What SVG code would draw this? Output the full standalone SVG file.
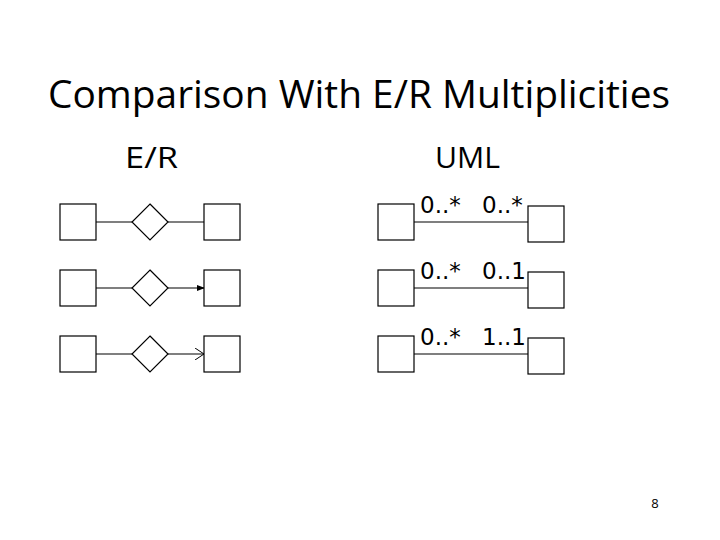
<svg xmlns="http://www.w3.org/2000/svg" width="720" height="540" viewBox="0 0 720 540">
<style>
.b{fill:#fff;stroke:#000;stroke-width:1.2}
.l{stroke:#000;stroke-width:1.2;fill:none}
.t{font-family:"Open Sans","Liberation Sans",Arial,sans-serif;fill:#000}
.m{font-family:"DejaVu Sans",sans-serif;font-size:23px;fill:#000}
</style>
<defs>
<marker id="fa" markerWidth="8" markerHeight="8" refX="7" refY="4" orient="auto" markerUnits="userSpaceOnUse"><path d="M0,1 L8,4 L0,7 z" fill="#000"/></marker>
<marker id="oa" markerWidth="10" markerHeight="12" refX="9" refY="6" orient="auto" markerUnits="userSpaceOnUse"><path d="M0,0 L9,6 L0,12" fill="none" stroke="#000" stroke-width="1"/></marker>
</defs>
<rect width="720" height="540" fill="#fff"/>
<text class="t" x="48" y="108" font-size="38" textLength="622" lengthAdjust="spacingAndGlyphs">Comparison With E/R Multiplicities</text>
<text class="t" x="125" y="168" font-size="29" textLength="53" lengthAdjust="spacingAndGlyphs">E/R</text>
<text class="t" x="435" y="168" font-size="29" textLength="65" lengthAdjust="spacingAndGlyphs">UML</text>
<g id="connectors">
<line class="l" x1="96" y1="222" x2="132" y2="222"/><line class="l" x1="168" y1="222" x2="204" y2="222"/>
<line class="l" x1="96" y1="288" x2="132" y2="288"/><line class="l" x1="168" y1="288" x2="204" y2="288" stroke-width="2.2" marker-end="url(#fa)"/>
<line class="l" x1="96" y1="354" x2="132" y2="354"/><line class="l" x1="168" y1="354" x2="204" y2="354" marker-end="url(#oa)"/>
<line class="l" x1="414" y1="222" x2="528" y2="222"/>
<line class="l" x1="414" y1="288" x2="528" y2="288"/>
<line class="l" x1="414" y1="354" x2="528" y2="354"/>
</g>
<g id="er1a"><rect class="b" x="60" y="204" width="36" height="36"/></g>
<g id="er1d"><path class="b" d="M150,204 L168,222 L150,240 L132,222 z"/></g>
<g id="er1b"><rect class="b" x="204" y="204" width="36" height="36"/></g>
<g id="er2a"><rect class="b" x="60" y="270" width="36" height="36"/></g>
<g id="er2d"><path class="b" d="M150,270 L168,288 L150,306 L132,288 z"/></g>
<g id="er2b"><rect class="b" x="204" y="270" width="36" height="36"/></g>
<g id="er3a"><rect class="b" x="60" y="336" width="36" height="36"/></g>
<g id="er3d"><path class="b" d="M150,336 L168,354 L150,372 L132,354 z"/></g>
<g id="er3b"><rect class="b" x="204" y="336" width="36" height="36"/></g>
<g id="u1a"><rect class="b" x="378" y="204" width="36" height="36"/></g>
<g id="u1b"><rect class="b" x="528" y="206" width="36" height="36"/></g>
<g id="u2a"><rect class="b" x="378" y="270" width="36" height="36"/></g>
<g id="u2b"><rect class="b" x="528" y="272" width="36" height="36"/></g>
<g id="u3a"><rect class="b" x="378" y="336" width="36" height="36"/></g>
<g id="u3b"><rect class="b" x="528" y="338" width="36" height="36"/></g>
<text class="m" x="420" y="213">0..*</text><text class="m" x="482" y="213">0..*</text>
<text class="m" x="420" y="279">0..*</text><text class="m" x="482" y="279">0..1</text>
<text class="m" x="420" y="345">0..*</text><text class="m" x="482" y="345">1..1</text>
<text class="t" x="655" y="508" font-size="13" text-anchor="middle">8</text>
</svg>
